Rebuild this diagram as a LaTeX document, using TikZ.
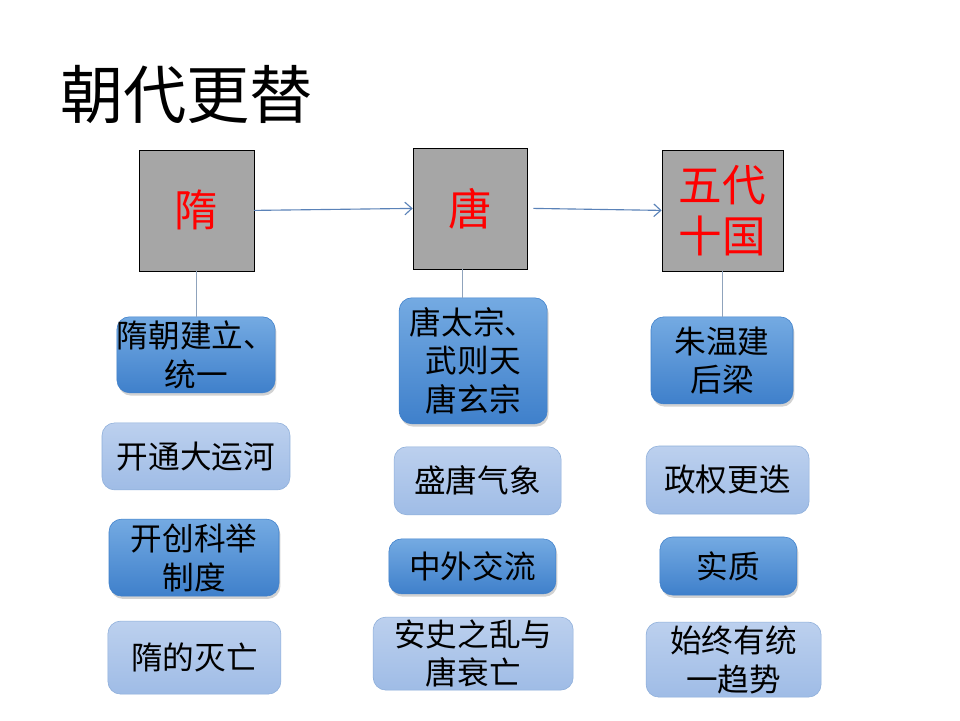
\documentclass[tikz,border=0pt]{standalone}
\usepackage{fontspec}
\setmainfont{Noto Sans CJK SC}
\usepackage{tikz}
\usetikzlibrary{arrows.meta,shadows}
\definecolor{dynfill}{HTML}{A6A6A6}
\definecolor{darktop}{HTML}{74AAE2}
\definecolor{darkbot}{HTML}{3F80CB}
\definecolor{lighttop}{HTML}{BCD0EE}
\definecolor{lightbot}{HTML}{9FBCE6}
\definecolor{lightline}{HTML}{8DAEDA}
\definecolor{linkline}{HTML}{8FA3BC}
\definecolor{arrowline}{HTML}{5A82B8}
\tikzset{
  dynasty/.style={draw=black, fill=dynfill, text=red, align=center,
    font=\fontsize{31}{36}\selectfont, inner sep=0pt},
  eventdark/.style={rounded corners=9pt, top color=darktop, bottom color=darkbot,
    draw=darkbot, align=center, font=\fontsize{22.5}{27.5}\selectfont, inner sep=0pt,
    drop shadow={shadow xshift=1pt, shadow yshift=-2pt, opacity=0.35}},
  eventlight/.style={rounded corners=9pt, top color=lighttop, bottom color=lightbot,
    draw=lightline, align=center, font=\fontsize{22.5}{27.5}\selectfont, inner sep=0pt},
  link/.style={draw=linkline, line width=0.5pt},
  flow/.style={draw=arrowline, line width=0.8pt, -{Straight Barb[length=5pt,width=9pt]}}
}
\begin{document}
\begin{tikzpicture}
		%%%%% START %%%%%
		\useasboundingbox[fill=white] (0, 0) rectangle (24, 18);

		\node[anchor=west, font=\fontsize{45}{50}\selectfont] (title) at (1.38, 15.63) {朝代更替};

		% dynasties
		\node[dynasty, minimum width=2.875cm, minimum height=3.025cm] (sui) at (4.91, 12.74) {隋};
		\node[dynasty, minimum width=2.85cm, minimum height=3.025cm] (tang) at (11.75, 12.79) {唐};
		\node[dynasty, minimum width=3.025cm, minimum height=3.025cm] (wudai) at (18.06, 12.74) {五代\\十国};

		\draw[flow] (sui.east) -- (tang.west);
		\draw[flow] ([xshift=0.15cm]tang.east) -- (wudai.west);

		% sui
		\node[eventdark, minimum width=3.95cm, minimum height=1.9cm] (suia) at (4.9, 9.13) {隋朝建立、\\统一};
		\node[eventlight, minimum width=4.7cm, minimum height=1.675cm] (suib) at (4.9, 6.59) {开通大运河};
		\node[eventdark, minimum width=4.25cm, minimum height=1.925cm] (suic) at (4.85, 4.06) {开创科举\\制度};
		\node[eventlight, minimum width=4.325cm, minimum height=1.825cm] (suid) at (4.86, 1.56) {隋的灭亡};

		% tang
		\node[eventdark, minimum width=3.7cm, minimum height=3.15cm] (tanga) at (11.83, 8.98) {唐太宗、\\武则天\\唐玄宗};
		\node[eventlight, minimum width=4.175cm, minimum height=1.7cm] (tangb) at (11.94, 5.98) {盛唐气象};
		\node[eventdark, minimum width=4.175cm, minimum height=1.375cm] (tangc) at (11.81, 3.84) {中外交流};
		\node[eventlight, minimum width=5cm, minimum height=1.825cm] (tangd) at (11.83, 1.66) {安史之乱与\\唐衰亡};

		% wudai
		\node[eventdark, minimum width=3.55cm, minimum height=2.175cm] (wudaia) at (18.05, 8.99) {朱温建\\后梁};
		\node[eventlight, minimum width=4.075cm, minimum height=1.7cm] (wudaib) at (18.19, 6.0) {政权更迭};
		\node[eventdark, minimum width=3.425cm, minimum height=1.45cm] (wudaic) at (18.21, 3.85) {实质};
		\node[eventlight, minimum width=4.375cm, minimum height=1.875cm] (wudaid) at (18.34, 1.51) {始终有统\\一趋势};

		\draw[link] (sui.south) -- (sui.south |- suia.north);
		\draw[link] ([xshift=-0.2cm]tang.south) -- ([xshift=-0.2cm]tang.south |- tanga.north);
		\draw[link] (wudai.south) -- (wudai.south |- wudaia.north);
		%%%%% END %%%%%
	\end{tikzpicture}
\end{document}
